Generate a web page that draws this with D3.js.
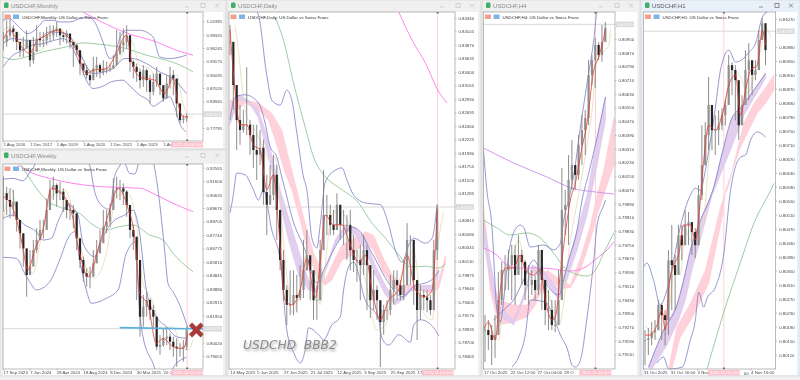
<!DOCTYPE html>
<html lang="en">
<head>
<meta charset="UTF-8">
<title>USDCHF multi timeframe</title>
<script src="https://d3js.org/d3.v7.min.js"></script>
<style>
    html, body { margin: 0; padding: 0; background: #f0f0f0; overflow: hidden; }
    svg { display: block; filter: blur(0.4px); font-family: "Liberation Sans", Arial, sans-serif; }
    .axis path, .axis line { stroke: #888; stroke-width: 0.5; }
    .axis text { fill: #444; font-size: 4.3px; font-family: "Liberation Sans", Arial, sans-serif; }
</style>
</head>
<body>
<svg width="800" height="380"></svg>
<script>
// ---- monthly ----
const monthlyDates = ["1 Aug 2016", "1 Dec 2017", "1 Apr 2019", "1 Aug 2020", "1 Dec 2021", "1 Apr 2023", "1 Aug"];
const monthlyTicks = [1.02395, 0.99320, 0.96245, 0.93170, 0.90095, 0.87020, 0.83945, 0.77795];
const monthlyClose = [.9764,.9917,1.0071,.9994,.9764,.9572,.961,.9802,.9342,.9534,.984,.9802,.9802,.9917,.9917,1.0032,1.0071,.9917,.9879,.9956,.9764,.9687,.9572,.9265,.9112,.8997,.8882,.915,.9227,.9074,.915,.915,.915,.9227,.9495,.9687,.9764,.9917,.9304,.9189,.9074,.8882,.9112,.8882,.8613,.8844,.9035,.8767,.846,.8805,.8997,.892,.8345,.7961,.8,.8038];
const monthlyHigh = [.9994,1.0262,1.0377,1.0147,.9917,.9764,.9879,1.0032,.9725,.9879,1.0147,.9994,.9994,1.0109,1.0147,1.0147,1.0224,1.0032,.9994,1.0032,.9956,.9764,.9725,.9495,.9265,.9227,.9074,.9419,.9419,.9265,.9342,.9304,.9265,.9457,1.0032,.9994,1.0071,1.0147,.9879,.9342,.9265,.915,.9227,.915,.8997,.9035,.9189,.8997,.8728,.8997,.9189,.9112,.8805,.8268,.8076,.8115];
const monthlyLow = [.9572,.9649,.984,.9764,.9572,.9419,.9419,.9649,.9189,.9265,.9572,.9649,.9649,.9687,.9764,.9802,.9879,.9687,.9764,.9725,.961,.9189,.9457,.8997,.8997,.892,.8767,.892,.8959,.892,.8997,.9035,.9074,.915,.9265,.9457,.9534,.961,.9074,.892,.8844,.869,.8728,.8613,.8345,.8537,.8728,.8537,.8383,.8498,.869,.8537,.8038,.7885,.7885,.7923];
const monthlyUpper = [[0,1.0262],[4,1.03],[8,1.017],[15,.9956],[19,1.0032],[22,1.0147],[25,1.0262],[30,1.0262],[34,1.0224],[40,1.0224],[46,1.03],[51,1.0339],[55,1.0224],[60,.9764],[64,.938],[67,.9457],[70,.984],[74,1.0032],[82,1.0032],[90,.9879],[94,.9419],[100,.938],[110,.9457]];
const monthlyMiddle = [[0,.9725],[6,.984],[14,.9802],[20,.9802],[28,.9994],[38,.9956],[46,.9495],[54,.9035],[66,.915],[73,.938],[78,.938],[86,.9265],[94,.9074],[102,.892],[110,.8575]];
const monthlyLower = [[0,.9189],[6,.9457],[12,.9572],[17,.9687],[24,.9725],[31,.9802],[36,.984],[40,.9725],[46,.9265],[51,.8805],[54,.869],[60,.8744],[65,.8844],[72,.8882],[75,.879],[82,.8537],[87,.8422],[90,.8283],[96,.8422],[100,.8498],[103,.8268],[106,.7885],[110,.7693]];
const monthlyGreen = [[0,.9419],[6,.9357],[14,.9419],[24,.9534],[38,.9649],[48,.9741],[58,.971],[74,.961],[86,.9457],[98,.9342],[104,.9265],[114,.9074]];
const monthlyMagenta = [[48,1.0454],[58,1.0247],[74,.9971],[92,.9764],[104,.9572],[114,.9457]];
const monthlyTan = [[0,1.0032],[4,1.0109],[8,1.0032],[12,.9725],[18,.9572],[23,.9572],[28,.9994],[33,1.0071],[38,.9956],[44,.9725],[52,.9112],[56,.9074],[64,.915],[70,.9342],[75,.9879],[78,.9725],[82,.9227],[88,.915],[92,.8882],[96,.8537],[99,.8805],[104,.9019],[108,.8345],[112,.8038],[114,.8023]];
const monthlyRed = [[0,.9802],[4,1.0032],[8,.984],[12,.961],[16,.9495],[20,.9764],[26,.9917],[32,1.0032],[38,.9917],[44,.9572],[50,.9035],[54,.9112],[62,.915],[68,.9495],[74,.9917],[77,.9342],[82,.8959],[86,.892],[91,.8882],[97,.8575],[102,.892],[105,.8345],[108,.8038],[111,.8038]];

// ---- weekly ----
const weeklyDates = ["17 Sep 2023", "7 Jan 2024", "28 Apr 2024", "18 Aug 2024", "8 Dec 2024", "30 Mar 2025", "20 Ju"];
const weeklyTicks = [0.92565, 0.91600, 0.90635, 0.89670, 0.88705, 0.87740, 0.86775, 0.85810, 0.84845, 0.83880, 0.82915, 0.81950, 0.80020, 0.79055];
const weeklyClose = [.9073,.9025,.8977,.9013,.8882,.8786,.8678,.8487,.8547,.8666,.8738,.881,.881,.8953,.9097,.9132,.9073,.9085,.9025,.8953,.8953,.8929,.875,.8595,.8499,.8475,.8475,.8571,.8643,.8714,.8834,.887,.8953,.9097,.9109,.9109,.9085,.8989,.881,.8762,.8595,.8188,.826,.8308,.8236,.8188,.7973,.7985,.8033,.8045,.8009,.7973,.7961,.7961,.7973,.8093];
const weeklyHigh = [.9192,.9121,.9109,.9097,.8977,.8882,.8786,.8619,.8666,.8738,.8822,.8882,.8882,.9037,.9168,.9192,.9144,.9156,.9109,.9025,.9001,.8989,.8894,.8738,.8619,.8535,.8547,.8666,.8738,.881,.8953,.8953,.9001,.918,.9192,.9168,.9144,.9097,.8989,.8846,.8738,.8595,.8344,.8368,.832,.8272,.8141,.8057,.8105,.8117,.8069,.8045,.8033,.7997,.8021,.8117];
const weeklyLow = [.8941,.8917,.8893,.8905,.8798,.8678,.8547,.8332,.8487,.8559,.8643,.875,.875,.8822,.9001,.9025,.8977,.9025,.8941,.8893,.8882,.8822,.8666,.8535,.844,.8404,.8392,.8511,.8571,.8643,.875,.8786,.8834,.9001,.9037,.9025,.8989,.8905,.875,.8666,.8308,.8045,.8117,.8188,.8165,.8105,.7949,.7914,.7973,.7985,.7949,.7902,.783,.7902,.7866,.7949];
const weeklyUpper = [[0,.9173],[6,.918],[12,.9163],[16,.9221],[19,.9276],[21,.9336],[49,.9336],[52,.9276],[55,.9085],[60,.8977],[64,.8958],[67,.9192],[70,.9269],[72,.9312],[76,.9216],[79,.9211],[81,.9276],[82,.9336],[89,.9336],[91,.9252],[94,.9001],[97,.8666],[99,.8427],[102,.8368],[106,.8272],[111,.8105]];
const weeklyMiddle = [[0,.8893],[6,.8917],[13,.8846],[20,.8798],[24,.8738],[29,.875],[33,.887],[39,.8989],[45,.8917],[48,.8714],[55,.8619],[60,.8762],[66,.887],[73,.8917],[78,.8953],[82,.8786],[86,.838],[92,.8188],[98,.8117],[104,.8045],[110,.8033]];
const weeklyLower = [[0,.8614],[8,.8607],[13,.8499],[16,.8439],[20,.838],[28,.8439],[34,.8595],[39,.875],[43,.8798],[46,.8595],[50,.838],[53,.8284],[62,.832],[69,.838],[74,.8643],[80,.8726],[81,.8427],[84,.8045],[90,.7854],[92,.7794],[98,.7758],[104,.7854],[110,.7897]];
const weeklyGreen = [[11,.9276],[18,.9144],[26,.9025],[36,.8965],[46,.8929],[54,.8846],[62,.881],[70,.8834],[78,.8846],[88,.8774],[96,.8738],[102,.8643],[114,.8511]];
const weeklyMagenta = [[9,.9276],[18,.9216],[28,.918],[42,.9144],[58,.9121],[68,.9116],[82,.9109],[92,.9061],[102,.9001],[114,.8941]];
const weeklyTan = [[0,.8881],[5,.9109],[8,.8953],[12,.869],[18,.8499],[23,.8762],[29,.9049],[37,.9097],[43,.8894],[49,.8571],[55,.8463],[62,.8643],[68,.9049],[75,.9073],[80,.8869],[84,.8427],[89,.832],[96,.8093],[102,.8117],[107,.7973],[111,.7949],[114,.8021]];
const weeklyRed = [[0,.9049],[3,.9025],[7,.8929],[11,.8738],[15,.8523],[19,.8666],[24,.881],[29,.9109],[35,.9073],[41,.8941],[46,.8643],[51,.8475],[58,.8714],[64,.8953],[69,.9109],[75,.8965],[79,.8762],[82,.8356],[87,.8272],[92,.7997],[96,.8033],[102,.7973],[108,.7961],[111,.8069]];
const weeklyTrend = [[70,.8110],[120,.8100]];
const weeklyCross = [116,.8093];

// ---- daily ----
const dailyDates = ["14 May 2025", "5 Jun 2025", "27 Jun 2025", "21 Jul 2025", "12 Aug 2025", "3 Sep 2025", "25 Sep 2025", "17"];
const dailyTicks = [0.84340, 0.84105, 0.83870, 0.83635, 0.83400, 0.83165, 0.82930, 0.82695, 0.82460, 0.82225, 0.81990, 0.81755, 0.81520, 0.81285, 0.80815, 0.80580, 0.80345, 0.80110, 0.79875, 0.79640, 0.79405, 0.79170, 0.78935, 0.78700, 0.78465];
const dailyClose = [.8392,.8317,.8256,.8239,.8248,.8248,.823,.8204,.8196,.8208,.8131,.8109,.8126,.8161,.81,.8013,.7961,.7935,.7935,.7952,.7947,.7961,.7995,.8021,.7995,.7943,.7943,.803,.8091,.8091,.8074,.8065,.8109,.8074,.8074,.8074,.803,.8013,.8013,.8004,.803,.8004,.7943,.7961,.7943,.7905,.7926,.7926,.7961,.7978,.7969,.7952,.7969,.8048,.8048,.7978,.7926,.7952,.7948,.7943,.7926,.803,.8103];
const dailyHigh = [.8421,.8378,.8308,.8282,.8274,.8348,.8256,.8248,.8248,.8239,.8222,.8161,.8178,.8196,.8178,.8091,.803,.7969,.7995,.7995,.7987,.8004,.8048,.8065,.8021,.7987,.7969,.8048,.8169,.8126,.8109,.81,.8129,.8091,.81,.8091,.81,.8056,.803,.8039,.8056,.8039,.7995,.7995,.7969,.7935,.7935,.7943,.7987,.7995,.7995,.7978,.8013,.8077,.8056,.8013,.7978,.7969,.7961,.7961,.7952,.8048,.8109];
const dailyLow = [.8369,.8274,.8204,.8213,.8234,.823,.8196,.8173,.8152,.8178,.8109,.8056,.8109,.8117,.8048,.7995,.7943,.79,.7917,.7917,.7922,.7943,.7947,.7995,.7943,.7909,.7909,.7943,.8048,.8056,.8056,.8056,.8065,.8048,.8039,.8013,.7995,.7992,.7975,.7943,.7987,.7926,.7912,.7926,.7909,.7827,.7883,.7909,.7917,.7935,.7943,.7943,.7943,.7995,.7969,.7935,.7874,.7909,.7926,.7922,.7917,.7943,.8013];
const dailyUpper = [[16,.8445],[17,.8439],[22,.8334],[25,.8291],[30,.8282],[34,.8308],[37,.8291],[40,.8234],[44,.8157],[46,.8135],[49,.8051],[52,.8034],[54,.8074],[57,.8148],[63,.8169],[67,.8173],[70,.8152],[74,.8126],[81,.8112],[90,.8109],[95,.8074],[99,.803],[103,.8009],[107,.8039],[110,.8051],[117,.8042],[121,.8051],[124,.8109]];
const dailyMiddle = [[0,.8256],[3,.8296],[9,.83],[17,.8286],[21,.8251],[24,.821],[28,.8192],[31,.8157],[33,.8135],[37,.8088],[45,.803],[52,.7973],[57,.8001],[63,.8036],[69,.806],[73,.807],[77,.8065],[85,.8025],[95,.7973],[103,.7949],[111,.7969],[117,.7973],[122,.7982],[125,.7995]];
const dailyLower = [[0,.8095],[2,.8126],[4,.8164],[9,.8161],[14,.8135],[17,.8117],[20,.8135],[25,.8065],[30,.8013],[34,.7891],[38,.7853],[42,.7834],[45,.7857],[47,.7895],[54,.788],[56,.7874],[61,.79],[66,.7914],[68,.7961],[71,.8001],[74,.8009],[81,.7943],[89,.7909],[91,.7877],[95,.7865],[101,.7883],[108,.787],[110,.79],[114,.7909],[122,.7895],[125,.7881]];
const dailyGreen = [[27,.8435],[32,.8395],[38,.8321],[45,.8244],[50,.8192],[56,.8161],[63,.8143],[67,.8135],[77,.8112],[85,.8077],[93,.8051],[101,.8022],[108,.8001],[117,.8002],[125,.7999],[129,.8006]];
const dailyMagenta = [[101,.8444],[109,.8395],[117,.8355],[125,.8305],[130,.8286]];
const dailyTan = [[3,.8421],[5,.8378],[7,.8321],[10,.8262],[14,.8244],[17,.8227],[21,.8199],[23,.8187],[27,.8192],[31,.8077],[35,.7961],[37,.7922],[42,.7961],[46,.803],[50,.8021],[54,.7935],[56,.7978],[61,.8091],[65,.81],[70,.8082],[76,.803],[81,.7978],[88,.7891],[93,.79],[97,.7952],[103,.7987],[110,.803],[115,.7926],[121,.7909],[125,.8048],[128,.8096]];
const dailyRed = [[0,.8413],[3,.8308],[6,.8248],[10,.8248],[14,.8213],[18,.8204],[22,.8135],[26,.8161],[29,.8074],[33,.7943],[37,.7935],[42,.7961],[46,.8016],[51,.7947],[54,.8009],[57,.8091],[62,.8074],[67,.8074],[72,.8039],[77,.8009],[81,.8021],[85,.7961],[90,.7909],[95,.7943],[101,.7961],[106,.8021],[111,.7961],[117,.7949],[121,.7961],[124,.81]];
const dailyPinkA = [[0,.8291],[9,.8291],[17,.8286],[25,.8268],[31,.8239],[35,.8192],[40,.8135],[44,.8088],[50,.8025],[55,.7996],[57,.7978],[61,.8004],[67,.8039],[73,.8048],[81,.8062],[86,.8056],[91,.8021],[97,.7987],[103,.7969],[111,.7969],[121,.7966],[125,.7978],[129,.8021]];
const dailyPinkB = [[0,.826],[9,.8286],[17,.8274],[23,.8256],[27,.8222],[33,.8164],[37,.8135],[42,.8082],[47,.8021],[53,.7978],[57,.7969],[61,.7978],[67,.8013],[73,.8021],[81,.8044],[86,.803],[91,.7995],[97,.7969],[103,.7952],[111,.7961],[121,.7956],[125,.7964],[129,.8009]];
const dailyPurpleA = [[0,.8256],[5,.83],[11,.8291],[17,.8274],[21,.8239],[25,.8196],[30,.8135],[35,.8088],[41,.803],[47,.7978],[52,.7961],[57,.7995],[63,.8048],[69,.8074],[75,.8069],[81,.8048],[87,.8004],[93,.7969],[99,.7943],[103,.7949],[109,.7966],[117,.7969],[121,.7969],[125,.7995]];
const dailyPurpleB = [[0,.8248],[5,.8291],[11,.8288],[17,.826],[21,.8213],[25,.8169],[30,.8109],[35,.8048],[41,.7987],[47,.7961],[52,.7956],[57,.7992],[63,.8039],[69,.8065],[75,.8056],[81,.803],[87,.7987],[93,.7952],[99,.7935],[103,.7943],[109,.7961],[117,.7961],[121,.7961],[125,.7987]];

// ---- H4 ----
const h4Dates = ["17 Oct 2025", "22 Oct 12:00", "27 Oct 04:00", "29 O"];
const h4Ticks = [0.80950, 0.80870, 0.80790, 0.80710, 0.80630, 0.80550, 0.80470, 0.80390, 0.80310, 0.80230, 0.80150, 0.80070, 0.79990, 0.79910, 0.79830, 0.79750, 0.79670, 0.79590, 0.79510, 0.79430, 0.79350, 0.79270, 0.79190, 0.79110];
const h4Close = [.79253,.79224,.79195,.79224,.79428,.79603,.79603,.79632,.7969,.79574,.7969,.7965,.79515,.79515,.79545,.79486,.7972,.79545,.7937,.7937,.79282,.79282,.79428,.79953,.79982,.80128,.80215,.80157,.80332,.80419,.80489,.8074,.80827,.80915,.80856,.80932,.81014];
const h4High = [.79341,.79311,.79282,.79341,.79591,.7965,.7969,.7972,.79749,.79749,.79807,.7972,.79661,.79632,.79603,.79574,.79749,.7972,.79545,.79486,.79428,.79428,.79603,.80198,.80069,.80273,.80361,.80215,.8039,.80507,.80536,.80827,.80856,.80955,.80932,.81031,.81049];
const h4Low = [.79067,.79137,.79049,.7909,.79253,.79399,.79486,.79486,.79428,.79399,.79574,.79515,.79428,.79399,.79457,.79428,.79457,.7937,.79282,.79253,.79253,.79241,.79311,.79603,.79807,.79749,.80069,.80069,.80128,.80215,.80273,.80448,.80681,.80664,.80827,.80816,.80944];
const h4Upper = [[0,.80302],[2,.80069],[5,.79865],[8,.7937],[10,.793],[13,.79515],[15,.7969],[18,.79819],[22,.79865],[24,.79853],[28,.79737],[36,.79749],[42,.7972],[46,.7976],[48,.79894],[51,.80011],[54,.80157],[58,.80437],[62,.80693],[66,.80944],[68,.81107],[72,.81119]];
const h4Middle = [[6,.79311],[12,.7937],[18,.79428],[24,.79545],[30,.79661],[36,.79545],[45,.79457],[48,.79545],[51,.79661],[56,.79836],[59,.80011],[63,.80168],[68,.80378],[73,.80612]];
const h4Lower = [[17,.79037],[21,.79096],[25,.79224],[28,.79428],[37,.79416],[43,.793],[46,.79224],[50,.79148],[53,.79049],[55,.79037],[58,.79078],[62,.79329],[66,.79661],[68,.79865],[72,.79982],[73,.80011]];
const h4Green = [[0,.79894],[8,.79848],[16,.79807],[26,.79819],[34,.79789],[42,.79702],[50,.79603],[62,.79568],[67,.79603],[72,.79702],[78,.79819]];
const h4Violet = [[0,.80314],[18,.80227],[38,.80145],[53,.8008],[67,.80058],[78,.80046]];
const h4Magenta = [[0,.79731],[8,.7969],[14,.79632],[22,.79615],[32,.79615],[42,.79609],[52,.79597],[60,.79615],[68,.79673],[74,.7972],[78,.79766]];
const h4Tan = [[4,.79282],[9,.79195],[12,.79428],[16,.79603],[21,.79778],[26,.79603],[31,.79603],[37,.79515],[41,.79399],[45,.79282],[48,.7941],[51,.79702],[56,.79994],[59,.80157],[62,.80332],[65,.80536],[68,.80827],[72,.80874],[75,.80915],[76,.81002]];
const h4Red = [[0,.79253],[3,.793],[7,.79195],[10,.79486],[13,.79615],[18,.79615],[22,.7969],[25,.79603],[30,.79574],[34,.79603],[37,.79428],[41,.79311],[43,.79329],[46,.79585],[49,.79819],[52,.80011],[55,.8011],[59,.8032],[62,.8046],[66,.80769],[69,.80845],[73,.81002]];
const h4PinkA = [[0,.79982],[4,.79603],[9,.79428],[18,.79399],[26,.79399],[31,.79457],[38,.79603],[46,.79545],[52,.79515],[58,.79673],[64,.79865],[68,.8004],[72,.80186],[78,.80489]];
const h4PinkB = [[0,.79865],[4,.79486],[9,.79282],[18,.793],[26,.79329],[31,.79399],[38,.79556],[46,.79498],[52,.79498],[58,.79603],[64,.79778],[68,.79924],[72,.8004],[78,.80215]];
const h4PurpleA = [[0,.79894],[4,.79661],[9,.79399],[18,.79311],[24,.79457],[29,.79632],[36,.79603],[45,.79486],[50,.79632],[56,.79836],[62,.8004],[68,.80378],[73,.80612]];
const h4PurpleB = [[0,.79778],[4,.79545],[9,.79341],[18,.79282],[24,.79428],[29,.79591],[36,.79556],[45,.79428],[50,.79545],[56,.7972],[62,.79924],[68,.80215],[73,.80477]];

// ---- H1 ----
const h1Dates = ["31 Oct 2025", "31 Oct 16:00", "3 Nov", "", "4 Nov 16:00"];
const h1Ticks = [0.81070, 0.80990, 0.80950, 0.80910, 0.80870, 0.80830, 0.80790, 0.80750, 0.80710, 0.80670, 0.80630, 0.80590, 0.80550, 0.80510, 0.80470, 0.80430, 0.80390, 0.80350, 0.80310, 0.80270, 0.80230, 0.80190, 0.80150, 0.80110];
const h1Close = [.80152,.80157,.80174,.8018,.80252,.80223,.80209,.8038,.80366,.80338,.80452,.80423,.80481,.80489,.80461,.80423,.80566,.80652,.80738,.80824,.80752,.80752,.80766,.80795,.80824,.80938,.80924,.80895,.80766,.80824,.80924,.80952,.8091,.80924,.8101,.81058,.80981];
const h1High = [.8018,.80186,.80203,.80209,.80266,.80257,.80237,.80409,.80481,.80395,.80481,.80481,.80523,.80518,.80489,.80472,.80595,.80766,.80775,.80904,.80824,.80795,.80809,.80815,.80838,.80967,.80947,.80938,.80824,.80852,.80981,.81001,.80938,.80952,.81038,.81073,.81044];
const h1Low = [.8008,.80109,.80137,.80152,.8018,.80152,.80137,.80166,.80237,.80237,.80352,.8038,.80423,.80423,.80395,.80386,.80423,.80552,.80652,.80695,.80695,.80681,.80709,.80752,.80766,.80867,.80852,.8078,.80724,.8078,.80824,.80838,.80852,.80895,.80924,.8101,.80938];
const h1Upper = [[0,.8036],[2,.80372],[6,.80323],[10,.80252],[14,.80295],[18,.8038],[22,.80475],[28,.80566],[31,.80586],[34,.8058],[37,.80638],[40,.80724],[43,.80818],[46,.80924],[51,.80981],[55,.80947],[60,.80958],[63,.80975],[67,.81001],[71,.81075],[74,.8109]];
const h1Middle = [[3,.80074],[12,.8018],[20,.80252],[24,.80323],[28,.80409],[33,.80481],[42,.80589],[47,.80686],[53,.80789],[58,.80815],[66,.80867],[73,.80915]];
const h1Lower = [[8,.80086],[12,.80103],[15,.80069],[23,.80074],[28,.80152],[31,.80209],[33,.80289],[36,.80246],[38,.80272],[43,.80303],[48,.804],[52,.8058],[58,.80675],[61,.80681],[64,.80724],[68,.80747],[73,.80732]];
const h1Green = [[38,.80069],[48,.80232],[58,.80375],[66,.80486],[76,.8058],[78,.806]];
const h1Tan = [[1,.80194],[6,.80166],[9,.80152],[13,.8018],[16,.80266],[19,.80395],[22,.80338],[25,.80466],[28,.80438],[32,.80438],[36,.80495],[39,.80666],[43,.80789],[45,.80781],[48,.80809],[53,.80924],[58,.80904],[62,.80858],[67,.80924],[70,.80981],[73,.81044],[76,.81018]];
const h1Red = [[1,.80166],[4,.80166],[8,.80194],[11,.80237],[13,.8018],[15,.80295],[18,.80366],[21,.80395],[24,.80481],[28,.80481],[31,.80438],[34,.80552],[36,.80666],[39,.80766],[43,.80752],[47,.80795],[51,.80881],[55,.8091],[58,.80795],[61,.80867],[64,.80924],[68,.80938],[71,.81038],[73,.80995]];
const h1PinkA = [[15,.80069],[20,.80189],[28,.80257],[37,.80352],[46,.80532],[51,.80595],[56,.80695],[60,.80772],[66,.80829],[72,.80867],[78,.8091]];
const h1PinkB = [[17,.80069],[22,.8016],[30,.80223],[39,.80315],[47,.80503],[49,.8058],[58,.80704],[68,.80801],[73,.80829],[78,.80867]];
const h1PurpleB = [[5,.80069],[14,.80137],[21,.80209],[25,.80266],[29,.80352],[34,.80438],[41,.80566],[52,.80695],[60,.80795],[67,.80852],[73,.80901]];

const timeLabel = "2025.11.04 00:00";
const pairName = "US Dollar vs Swiss Franc";

// screen layout of each MT5 child window, kept apart from the price data
const panels = [
    { name: "Monthly", win: [0, 0, 226, 149], plot: [3, 12, 203, 141], bars: [0, 120], price: [1.04534, 0.74795],
      step: 0.2, now: 110.5, last: 0.8099, lastText: "0.81005", dates: monthlyDates, ticks: monthlyTicks, dateStep: 16,
      close: monthlyClose, high: monthlyHigh, low: monthlyLow, upper: monthlyUpper, middle: monthlyMiddle, lower: monthlyLower,
      green: monthlyGreen, magenta: monthlyMagenta, tan: monthlyTan, red: monthlyRed },
    { name: "Weekly", win: [0, 150, 226, 376], plot: [3, 164, 203, 369], bars: [0, 120], price: [0.92830, 0.78132],
      step: 0.2, now: 110.5, last: 0.8102, lastText: "0.81035", dates: weeklyDates, ticks: weeklyTicks, dateStep: 16,
      close: weeklyClose, high: weeklyHigh, low: weeklyLow, upper: weeklyUpper, middle: weeklyMiddle, lower: weeklyLower,
      green: weeklyGreen, magenta: weeklyMagenta, tan: weeklyTan, red: weeklyRed, trend: weeklyTrend, cross: weeklyCross },
    { name: "Daily", win: [227, 0, 481, 376], plot: [229, 12, 455, 369], bars: [-0.6, 134.7], price: [0.84439, 0.78235],
      step: 0, now: 124.3, last: 0.8105, lastText: "0.81035", dates: dailyDates, ticks: dailyTicks, dateStep: 16,
      close: dailyClose, high: dailyHigh, low: dailyLow, upper: dailyUpper, middle: dailyMiddle, lower: dailyLower,
      green: dailyGreen, magenta: dailyMagenta, tan: dailyTan, red: dailyRed,
      pinkA: dailyPinkA, pinkB: dailyPinkB, purpleA: dailyPurpleA, purpleB: dailyPurpleB, watermark: "USDCHD  BBB2" },
    { name: "H4", win: [482, 0, 640, 376], plot: [483.5, 12, 615, 369], bars: [0, 78.7], price: [0.81107, 0.79026],
      step: 0.9, now: 67, last: 0.81035, lastText: "0.81035", dates: h4Dates, ticks: h4Ticks, dateStep: 16,
      close: h4Close, high: h4High, low: h4Low, upper: h4Upper, middle: h4Middle, lower: h4Lower,
      green: h4Green, magenta: h4Magenta, violet: h4Violet, tan: h4Tan, red: h4Red,
      pinkA: h4PinkA, pinkB: h4PinkB, purpleA: h4PurpleA, purpleB: h4PurpleB },
    { name: "H1", win: [641, 0, 800, 376], plot: [643.5, 12, 775.7, 369], bars: [0, 79], price: [0.8109, 0.80069],
      step: 0.9, now: 48, last: 0.81035, lastText: "0.81035", dates: h1Dates, ticks: h1Ticks, dateStep: 16, active: true, tail: "00",
      close: h1Close, high: h1High, low: h1Low, upper: h1Upper, middle: h1Middle, lower: h1Lower,
      green: h1Green, tan: h1Tan, red: h1Red,
      pinkA: h1PinkA, pinkB: h1PinkB, purpleA: h1Middle, purpleB: h1PurpleB }
];

const svg = d3.select("svg");
const defs = svg.append("defs");
const shadow = defs.append("filter").attr("id", "soft").attr("x", "-10%").attr("y", "-30%").attr("width", "120%").attr("height", "170%");
shadow.append("feDropShadow").attr("dx", 1).attr("dy", 2).attr("stdDeviation", 1.2).attr("flood-color", "#aaa");

// the ribbons are hatched in the terminal
function hatch(id, back, ink) {
    const pat = defs.append("pattern").attr("id", id).attr("width", 1.6).attr("height", 1.6)
        .attr("patternUnits", "userSpaceOnUse").attr("patternTransform", "rotate(35)");
    pat.append("rect").attr("width", 1.6).attr("height", 1.6).attr("fill", back);
    pat.append("line").attr("x1", 0).attr("x2", 1.6).attr("y1", 0.8).attr("y2", 0.8).attr("stroke", ink).attr("stroke-width", 0.6);
}
hatch("pinkHatch", "#ffdfe6", "#ffb9c8");
hatch("purpleHatch", "#ebdff4", "#d3b4e6");

panels.forEach((p, idx) => drawPanel(p, idx));

function drawPanel(p, idx) {
    const [wx0, wy0, wx1, wy1] = p.win;
    const [px0, py0, px1, py1] = p.plot;
    const g = svg.append("g");

    // window frame
    g.append("rect").attr("x", wx0).attr("y", wy0).attr("width", wx1 - wx0).attr("height", wy1 - wy0)
        .attr("fill", p.active ? "#e8f1f9" : "#f0f0f0").attr("stroke", "#cfcfcf").attr("stroke-width", 0.6);
    g.append("rect").attr("x", px0).attr("y", py0).attr("width", wx1 - px0 - 3).attr("height", wy1 - py0 - 1).attr("fill", "#fff");

    // title bar
    g.append("rect").attr("x", wx0 + 4).attr("y", wy0 + 2.5).attr("width", 4.5).attr("height", 5.5).attr("rx", 1.2).attr("fill", "#3fae6a");
    g.append("text").attr("x", wx0 + 11).attr("y", wy0 + 7.5).attr("font-size", 6).attr("fill", p.active ? "#555" : "#8a8a8a").text("USDCHF," + p.name);
    const btn = p.active ? "#666" : "#c4c4c4";
    g.append("line").attr("x1", wx1 - 41).attr("x2", wx1 - 37).attr("y1", wy0 + 7).attr("y2", wy0 + 7).attr("stroke", btn).attr("stroke-width", 0.7);
    g.append("rect").attr("x", wx1 - 25).attr("y", wy0 + 3.5).attr("width", 4).attr("height", 4).attr("fill", "none").attr("stroke", btn).attr("stroke-width", 0.7);
    g.append("path").attr("d", `M${wx1 - 11},${wy0 + 3.5}l4,4m0,-4l-4,4`).attr("stroke", btn).attr("stroke-width", 0.7);

    const x = d3.scaleLinear().domain(p.bars).range([px0, px1]);
    const y = d3.scaleLinear().domain(p.price).range([py0, py1]);

    const clipId = "clip" + idx;
    defs.append("clipPath").attr("id", clipId).append("rect").attr("x", px0).attr("y", py0).attr("width", px1 - px0).attr("height", py1 - py0);
    const plot = g.append("g").attr("clip-path", `url(#${clipId})`);

    const smooth = d3.line().x(d => x(d[0])).y(d => y(d[1])).curve(d3.curveMonotoneX);
    const straight = d3.line().x(d => x(d[0])).y(d => y(d[1]));

    // current price and time markers
    plot.append("line").attr("x1", px0).attr("x2", px1).attr("y1", y(p.last)).attr("y2", y(p.last)).attr("stroke", "#cfcfcf").attr("stroke-width", 0.8);
    plot.append("line").attr("x1", x(p.now)).attr("x2", x(p.now)).attr("y1", py0).attr("y2", py1).attr("stroke", "#ffc4cf").attr("stroke-width", 0.8);
    g.append("rect").attr("x", x(p.now) - 1).attr("y", py0).attr("width", 2).attr("height", 1.4).attr("fill", "#555");
    g.append("rect").attr("x", x(p.now) - 1).attr("y", py1 - 1.4).attr("width", 2).attr("height", 1.4).attr("fill", "#555");

    // ribbons first so everything sits on top
    if (p.pinkA) {
        plot.append("path").attr("d", straight(p.pinkA.concat(p.pinkB.slice().reverse())) + "Z")
            .attr("fill", "url(#pinkHatch)").attr("stroke", "#ffc4d0").attr("stroke-width", 0.5);
        plot.append("path").attr("d", straight(p.purpleA.concat(p.purpleB.slice().reverse())) + "Z")
            .attr("fill", "url(#purpleHatch)").attr("stroke", "#d9bfe9").attr("stroke-width", 0.5);
    }

    const addLine = (pts, color, width) => {
        if (pts) plot.append("path").attr("d", smooth(pts)).attr("fill", "none").attr("stroke", color).attr("stroke-width", width);
    };
    addLine(p.magenta, "#ff85f0", 1);
    addLine(p.violet, "#cc8fe8", 0.9);
    addLine(p.green, "#84c08a", 0.8);
    addLine(p.tan, "#e6dfbe", 0.9);
    addLine(p.upper, "#7c7cc6", 0.8);
    addLine(p.middle, "#7c7cc6", 0.8);
    addLine(p.lower, "#7c7cc6", 0.8);

    // candles, open taken as the previous close
    const bars = p.close.map((c, i) => ({
        bar: i * 2 + p.step, close: c, open: i ? p.close[i - 1] : c, high: p.high[i], low: p.low[i]
    }));
    plot.selectAll(".wick").data(bars).join("line").attr("class", "wick")
        .attr("x1", d => x(d.bar)).attr("x2", d => x(d.bar))
        .attr("y1", d => y(d.high)).attr("y2", d => y(d.low))
        .attr("stroke", "#808080").attr("stroke-width", 0.9);
    plot.selectAll(".body").data(bars).join("rect").attr("class", "body")
        .attr("x", d => x(d.bar) - 1.1).attr("width", 2.2)
        .attr("y", d => y(Math.max(d.open, d.close)))
        .attr("height", d => Math.max(0.8, Math.abs(y(d.open) - y(d.close))))
        .attr("fill", d => d.close >= d.open ? "#909090" : "#262626");

    addLine(p.red, "#e8392b", 0.8);

    if (p.trend) {
        plot.append("path").attr("d", straight(p.trend)).attr("stroke", "#5ab2dc").attr("stroke-width", 1.6).attr("fill", "none");
    }
    if (p.cross) {
        g.append("path").attr("d", d3.symbol().type(d3.symbolX).size(90)())
            .attr("transform", `translate(${x(p.cross[0])},${y(p.cross[1])})`)
            .attr("fill", "none").attr("stroke", "#a83a3a").attr("stroke-width", 4.5);
    }
    if (p.watermark) {
        g.append("text").attr("x", px0 + 14).attr("y", py1 - 20).attr("font-size", 12.2).attr("font-style", "italic")
            .attr("font-family", "DejaVu Sans").attr("fill", "#8c8c8c")
            .style("white-space", "pre").attr("filter", "url(#soft)").text(p.watermark);
    }

    // chart caption and the little flag tabs
    g.append("rect").attr("x", px0 + 1.5).attr("y", py0 + 2.5).attr("width", 6).attr("height", 4.5).attr("fill", "#f2a08e");
    g.append("rect").attr("x", px0 + 10).attr("y", py0 + 2.5).attr("width", 6).attr("height", 4.5).attr("fill", "#7fb2e5");
    g.append("text").attr("x", px0 + 19).attr("y", py0 + 6.5).attr("font-size", 4.4).attr("fill", "#333")
        .text("USDCHF," + p.name + ":  " + pairName);

    // frame and axes
    g.append("rect").attr("x", px0).attr("y", py0).attr("width", px1 - px0).attr("height", py1 - py0)
        .attr("fill", "none").attr("stroke", "#8d8d8d").attr("stroke-width", 0.6);
    g.append("g").attr("class", "axis").attr("transform", `translate(${px1},0)`)
        .call(d3.axisRight(y).tickValues(p.ticks).tickFormat(d3.format(".5f")).tickSize(1.5).tickPadding(2))
        .call(a => a.select(".domain").remove());
    const dateAt = p.dates.map((_, i) => i * p.dateStep);
    g.append("g").attr("class", "axis").attr("transform", `translate(0,${py1})`)
        .call(d3.axisBottom(x).tickValues(dateAt).tickFormat((_, i) => p.dates[i]).tickSize(1.5).tickPadding(0.5))
        .call(a => a.select(".domain").remove())
        .call(a => a.selectAll("text").attr("text-anchor", "start"));

    // price and time tags
    g.append("rect").attr("x", px1 + 1).attr("y", y(p.last) - 2.8).attr("width", 18).attr("height", 5.6).attr("fill", "#d9d9d9");
    g.append("text").attr("x", px1 + 2.5).attr("y", y(p.last) + 1.5).attr("font-size", 4.3).attr("fill", "#fff").text(p.lastText);
    const tagX = x(p.now) - 16;
    g.append("rect").attr("x", tagX).attr("y", py1 + 1).attr("width", 32).attr("height", 5.4).attr("fill", "#ffc0cc");
    g.append("text").attr("x", tagX + 2).attr("y", py1 + 5.2).attr("font-size", 4.3).attr("fill", "#fff").text(timeLabel);
    if (p.tail) {
        g.append("text").attr("x", tagX + 36).attr("y", py1 + 6).attr("font-size", 4.3).attr("fill", "#444").text(p.tail);
    }
}
</script>
</body>
</html>
